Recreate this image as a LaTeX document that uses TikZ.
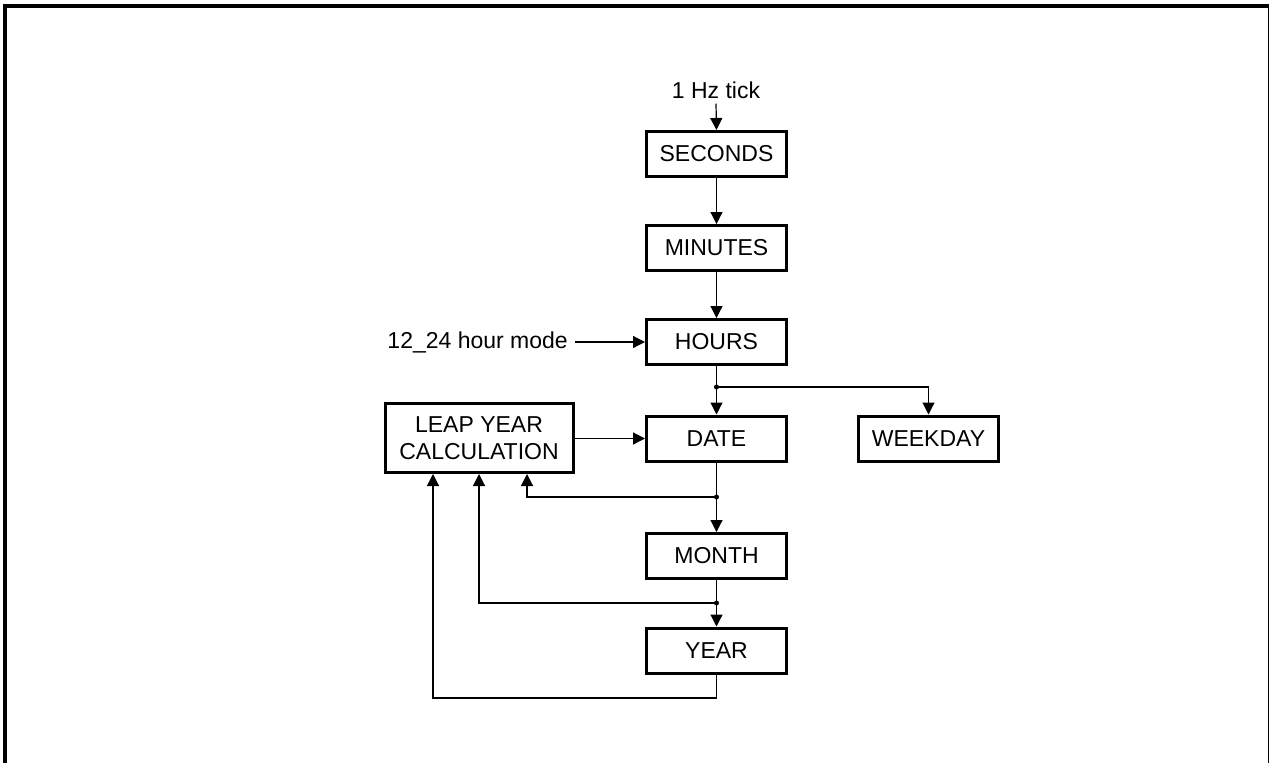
\documentclass[tikz,border=0pt]{standalone}
\usepackage{fontspec}
\setmainfont{Liberation Sans}
\usetikzlibrary{arrows.meta,calc}
\begin{document}
\begin{tikzpicture}[x=1pt,y=-1pt,
  blk/.style={draw,line width=3pt,minimum width=140pt,minimum height=45pt,inner sep=0pt,align=center,font=\fontsize{23}{27}\selectfont},
  lbl/.style={inner sep=0pt,font=\fontsize{23}{27}\selectfont},
  conn/.style={line width=1.2pt},
  arr/.style={conn,-{Triangle[length=12pt,width=12pt]}},
  dot/.style={circle,fill,inner sep=0pt,minimum size=5pt}]
\useasboundingbox (0,0) rectangle (1269,763);
\clip (0,0) rectangle (1269,763);
\fill[white] (0,0) rectangle (1269,763);
% frame
\draw[line width=4pt] (5,800) -- (5,6) -- (1269.5,6) -- (1269.5,800);
% nodes
\node[lbl] (tick) at (716,90) {1 Hz tick};
\node[blk] (sec) at (716.5,154) {SECONDS};
\node[blk] (min) at (716.5,248) {MINUTES};
\node[blk] (hrs) at (716.5,342) {HOURS};
\node[lbl,anchor=east] (mode) at (568,342) {12\_24 hour mode};
\node[blk] (date) at (716.5,438.5) {DATE};
\node[blk] (week) at (928.5,438.5) {WEEKDAY};
\node[blk,minimum width=188pt,minimum height=69pt] (leap) at (479,438) {LEAP YEAR\\CALCULATION};
\node[blk] (month) at (716.5,556) {MONTH};
\node[blk] (year) at (716.5,650.5) {YEAR};
% junctions
\node[dot] (j1) at (716.5,387) {};
\node[dot] (j2) at (716.5,497) {};
\node[dot] (j3) at (716.5,603) {};
\coordinate (c4) at (716.5,698);
% connectors
\draw[arr] ([yshift=-5pt]tick.south) -- (sec.north);
\draw[arr] (sec) -- (min);
\draw[arr] (min) -- (hrs);
\draw[arr] ([xshift=7pt]mode.east) -- (hrs.west);
\draw[conn] (hrs.south) -- (j1.center);
\draw[arr] (j1.center) -- (date.north);
\draw[arr] (j1.center) -| (week.north);
\draw[arr] (leap.east |- date.west) -- (date.west);
\draw[conn] (date.south) -- (j2.center);
\draw[arr] (j2.center) -- (month.north);
\draw[arr] (j2.center) -| ([xshift=48pt]leap.south);
\draw[conn] (month.south) -- (j3.center);
\draw[arr] (j3.center) -- (year.north);
\draw[arr] (j3.center) -| (leap.south);
\draw[arr] (year.south) -- (c4) -| ([xshift=-46pt]leap.south);
\end{tikzpicture}
\end{document}
